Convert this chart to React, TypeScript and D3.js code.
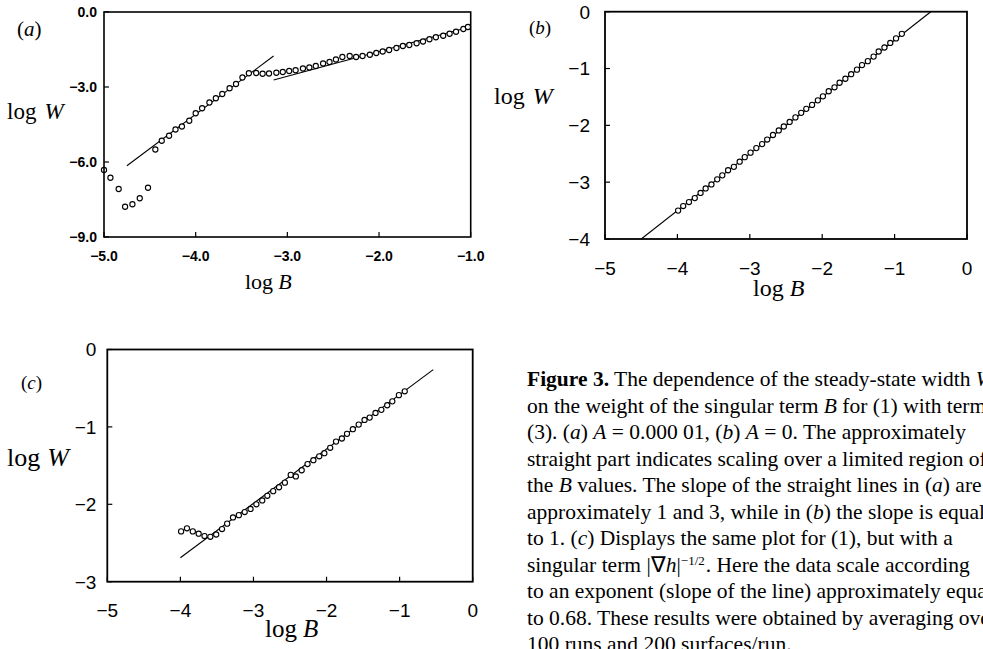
import React from "react";
import * as d3 from "d3";

// ---------- data ----------
const logBA = [-5.0, -4.93, -4.84, -4.77, -4.69, -4.61, -4.52, -4.44, -4.37, -4.29, -4.22, -4.15, -4.07, -4.0, -3.93, -3.85, -3.78, -3.71, -3.63, -3.56, -3.49, -3.42, -3.34, -3.27, -3.2, -3.12, -3.05, -2.98, -2.91, -2.83, -2.76, -2.69, -2.61, -2.54, -2.47, -2.4, -2.32, -2.25, -2.18, -2.1, -2.03, -1.96, -1.89, -1.81, -1.74, -1.67, -1.59, -1.52, -1.45, -1.38, -1.3, -1.23, -1.16, -1.08, -1.03];
const logWA = [-6.32, -6.63, -7.08, -7.79, -7.69, -7.45, -7.03, -5.5, -5.15, -4.95, -4.7, -4.58, -4.35, -4.05, -3.85, -3.62, -3.45, -3.28, -3.05, -2.88, -2.62, -2.45, -2.44, -2.47, -2.46, -2.43, -2.4, -2.36, -2.33, -2.26, -2.22, -2.16, -2.06, -2.0, -1.9, -1.8, -1.76, -1.8, -1.76, -1.71, -1.64, -1.58, -1.52, -1.44, -1.36, -1.32, -1.25, -1.18, -1.09, -1.01, -0.95, -0.87, -0.79, -0.68, -0.6];
const fitA1 = [[-4.75, -6.15], [-3.15, -1.76]];
const fitA2 = [[-3.15, -2.72], [-1.03, -0.62]];

const logBB = [-3.99, -3.92, -3.84, -3.76, -3.68, -3.61, -3.53, -3.45, -3.38, -3.3, -3.22, -3.14, -3.07, -2.99, -2.91, -2.83, -2.76, -2.68, -2.6, -2.53, -2.45, -2.37, -2.29, -2.22, -2.14, -2.06, -1.99, -1.91, -1.83, -1.76, -1.68, -1.6, -1.52, -1.45, -1.37, -1.29, -1.22, -1.14, -1.06, -0.98, -0.9];
const logWB = [-3.5, -3.42, -3.35, -3.28, -3.19, -3.11, -3.04, -2.95, -2.88, -2.79, -2.73, -2.64, -2.56, -2.48, -2.4, -2.33, -2.25, -2.17, -2.09, -2.02, -1.94, -1.86, -1.78, -1.71, -1.64, -1.56, -1.49, -1.4, -1.33, -1.25, -1.18, -1.1, -1.02, -0.94, -0.87, -0.79, -0.7, -0.63, -0.55, -0.47, -0.39];
const fitB = [[-4.5, -4.0], [-0.5, 0.0]];

const logBC = [-3.99, -3.91, -3.83, -3.75, -3.67, -3.59, -3.51, -3.43, -3.36, -3.28, -3.2, -3.12, -3.04, -2.96, -2.88, -2.81, -2.73, -2.65, -2.57, -2.49, -2.42, -2.34, -2.26, -2.18, -2.1, -2.03, -1.95, -1.87, -1.79, -1.72, -1.64, -1.56, -1.48, -1.41, -1.33, -1.25, -1.17, -1.1, -1.01, -0.93];
const logWC = [-2.35, -2.31, -2.35, -2.38, -2.41, -2.42, -2.39, -2.32, -2.25, -2.17, -2.14, -2.1, -2.06, -2.0, -1.95, -1.89, -1.83, -1.78, -1.72, -1.62, -1.64, -1.56, -1.48, -1.43, -1.38, -1.34, -1.27, -1.19, -1.15, -1.09, -1.03, -0.97, -0.91, -0.88, -0.82, -0.78, -0.72, -0.67, -0.59, -0.54];
const fitC = [[-4.0, -2.69], [-0.54, -0.26]];

const xTicksA = [-5, -4, -3, -2, -1];
const yTicksA = [0, -3, -6, -9];
const xTicksBC = [-5, -4, -3, -2, -1, 0];
const yTicksB = [0, -1, -2, -3, -4];
const yTicksC = [0, -1, -2, -3];

const SERIF = "'Liberation Serif', 'Times New Roman', serif";
const SANS = "'Liberation Sans', Arial, sans-serif";

const fmtInt = (d: number) => (d === 0 ? "0" : "\u2212" + Math.abs(d));
const fmtDec = (d: number) => (d === 0 ? "0.0" : "\u2212" + Math.abs(d).toFixed(1));

type PanelProps = {
  x0: number; x1: number; y0: number; y1: number;
  xDom: [number, number]; yDom: [number, number];
  xTicks: number[]; yTicks: number[];
  fmt: (d: number) => string;
  tickFont: number; tickWeight: number;
  xLabY: number; yLabGap: number;
  xs: number[]; ys: number[];
  fits: number[][][];
  r: number;
  frameW: number;
};

function Panel(p: PanelProps) {
  const x = d3.scaleLinear().domain(p.xDom).range([p.x0, p.x1]);
  const y = d3.scaleLinear().domain(p.yDom).range([p.y1, p.y0]);
  const line = d3.line<number[]>().x((d) => x(d[0])).y((d) => y(d[1]));
  return (
    <g>
      {p.fits.map((f, i) => (
        <path key={"f" + i} d={line(f) || ""} fill="none" stroke="#000" strokeWidth={1.1} />
      ))}
      {p.xs.map((v, i) => (
        <circle key={"c" + i} cx={x(v)} cy={y(p.ys[i])} r={p.r} fill="#fff" stroke="#000" strokeWidth={1.1} />
      ))}
      <rect x={p.x0} y={p.y0} width={p.x1 - p.x0} height={p.y1 - p.y0} fill="none" stroke="#000" strokeWidth={p.frameW} />
      {p.xTicks.map((t) => (
        <g key={"xt" + t}>
          <line x1={x(t)} x2={x(t)} y1={p.y1} y2={p.y1 - 5} stroke="#000" strokeWidth={1.2} />
          <text x={x(t)} y={p.xLabY} textAnchor="middle" fontFamily={SANS} fontSize={p.tickFont} fontWeight={p.tickWeight}>
            {p.fmt(t)}
          </text>
        </g>
      ))}
      {p.yTicks.map((t) => (
        <g key={"yt" + t}>
          <line x1={p.x0} x2={p.x0 + 5} y1={y(t)} y2={y(t)} stroke="#000" strokeWidth={1.2} />
          <text x={p.x0 - p.yLabGap} y={y(t)} dy="0.36em" textAnchor="end" fontFamily={SANS} fontSize={p.tickFont} fontWeight={p.tickWeight}>
            {p.fmt(t)}
          </text>
        </g>
      ))}
    </g>
  );
}

function LogLabel({ x, y, v, size, gap }: { x: number; y: number; v: string; size: number; gap: number }) {
  return (
    <text x={x} y={y} fontFamily={SERIF} fontSize={size}>
      log<tspan dx={gap} fontStyle="italic">{v}</tspan>
    </text>
  );
}

function PLabel({ x, y, v, size }: { x: number; y: number; v: string; size: number }) {
  return (
    <text x={x} y={y} fontFamily={SERIF} fontSize={size}>
      (<tspan fontStyle="italic">{v}</tspan>)
    </text>
  );
}

const captionLines: (string | [string, string])[][] = [
  [["Figure 3.", "b"], " The dependence of the steady-state width ", ["W", "i"]],
  ["on the weight of the singular term ", ["B", "i"], " for (1) with term"],
  ["(3). (", ["a", "i"], ") ", ["A", "i"], " = 0.000 01, (", ["b", "i"], ") ", ["A", "i"], " = 0. The approximately"],
  ["straight part indicates scaling over a limited region of"],
  ["the ", ["B", "i"], " values. The slope of the straight lines in (", ["a", "i"], ") are"],
  ["approximately 1 and 3, while in (", ["b", "i"], ") the slope is equal"],
  ["to 1. (", ["c", "i"], ") Displays the same plot for (1), but with a"],
  ["singular term |\u2207", ["h", "i"], "|", ["\u22121/2", "s"], ". Here the data scale according"],
  ["to an exponent (slope of the line) approximately equal"],
  ["to 0.68. These results were obtained by averaging over"],
  ["100 runs and 200 surfaces/run."],
];

export default function App() {
  return (
    <div style={{ position: "absolute", left: 0, top: 0 }}>
      <svg width={983} height={649} style={{ display: "block", background: "#fff" }}>
        <rect width={983} height={649} fill="#fff" />
        {/* Panel a */}
        <Panel x0={104} x1={470.7} y0={12} y1={237} xDom={[-5, -1]} yDom={[-9, 0]}
          xTicks={xTicksA} yTicks={yTicksA} fmt={fmtDec} tickFont={14} tickWeight={700}
          xLabY={261} yLabGap={7} xs={logBA} ys={logWA} fits={[fitA1, fitA2]} r={2.6} frameW={1.6} />
        <PLabel x={17} y={36} v="a" size={21} />
        <LogLabel x={7} y={119} v="W" size={23} gap={8} />
        <LogLabel x={245} y={289} v="B" size={22} gap={5} />

        {/* Panel b */}
        <Panel x0={605} x1={967} y0={11.7} y1={239} xDom={[-5, 0]} yDom={[-4, 0]}
          xTicks={xTicksBC} yTicks={yTicksB} fmt={fmtInt} tickFont={19} tickWeight={400}
          xLabY={275} yLabGap={15} xs={logBB} ys={logWB} fits={[fitB]} r={2.6} frameW={1.8} />
        <PLabel x={529} y={34} v="b" size={19} />
        <LogLabel x={494} y={104} v="W" size={24} gap={8} />
        <LogLabel x={753} y={296} v="B" size={24} gap={6} />

        {/* Panel c */}
        <Panel x0={107.3} x1={472.7} y0={349.5} y1={581.7} xDom={[-5, 0]} yDom={[-3, 0]}
          xTicks={xTicksBC} yTicks={yTicksC} fmt={fmtInt} tickFont={19} tickWeight={400}
          xLabY={617} yLabGap={11} xs={logBC} ys={logWC} fits={[fitC]} r={2.6} frameW={1.8} />
        <PLabel x={21} y={389} v="c" size={19} />
        <LogLabel x={7} y={466} v="W" size={26} gap={7} />
        <LogLabel x={265} y={637} v="B" size={25} gap={6} />

        {/* caption */}
        <g fontFamily={SERIF} fontSize={21.5}>
          {captionLines.map((ln, i) => (
            <text key={i} x={527} y={386 + i * 26.5}>
              {ln.map((s, j) => {
                if (typeof s === "string") return <tspan key={j}>{s}</tspan>;
                const [t, k] = s;
                if (k === "b") return <tspan key={j} fontWeight={700}>{t}</tspan>;
                if (k === "s") return <tspan key={j} fontSize={13}><tspan dy={-7}>{t}</tspan><tspan dy={7}>{"\u200A"}</tspan></tspan>;
                return <tspan key={j} fontStyle="italic">{t}</tspan>;
              })}
            </text>
          ))}
        </g>
      </svg>
    </div>
  );
}
